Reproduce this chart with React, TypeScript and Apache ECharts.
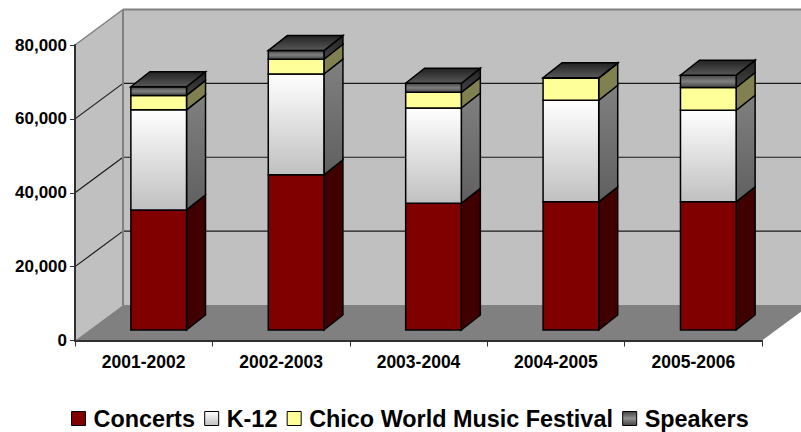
import React, { useEffect, useRef } from "react";
import * as echarts from "echarts";

const categories = ["2001-2002", "2002-2003", "2003-2004", "2004-2005", "2005-2006"];
const concerts = [32500, 42000, 34300, 34700, 34700];
const k12 = [27100, 27300, 25800, 27500, 24800];
const festival = [3900, 4000, 4250, 5950, 6150];
const speakers = [2350, 2350, 2450, 150, 3350];
const gridTicks = [0, 20000, 40000, 60000, 80000];

const DEPTH_X = 48;
const DEPTH_Y = 35.5;
const BAR_SHIFT_X = 15;
const BAR_SHIFT_Y = -10.5;
const BAR_DX = 19;
const BAR_DY = -15;

const vGrad = (stops: [number, string][]) =>
  new echarts.graphic.LinearGradient(0, 0, 0, 1, stops.map(([offset, color]) => ({ offset, color })));

type Look = { front: any; side: any; swatch: any };
const looks: Look[] = [
  { front: "#800000", side: "#400000", swatch: "#800000" },
  {
    front: vGrad([[0, "#ffffff"], [1, "#c0c0c0"]]),
    side: vGrad([[0, "#808080"], [1, "#606060"]]),
    swatch: vGrad([[0, "#ffffff"], [1, "#c0c0c0"]]),
  },
  { front: "#ffff99", side: "#808050", swatch: "#ffff99" },
  {
    front: vGrad([[0, "#444444"], [0.5, "#808080"], [1, "#444444"]]),
    side: vGrad([[0, "#222222"], [1, "#444444"]]),
    swatch: vGrad([[0, "#444444"], [0.5, "#909090"], [1, "#444444"]]),
  },
];
const topFace = vGrad([[0, "#222222"], [1, "#585858"]]);

const seriesNames = ["Concerts", "K-12", "Chico World Music Festival", "Speakers"];
const seriesValues = [concerts, k12, festival, speakers];

function barSeries(index: number) {
  const rows = categories.map((_, c) => {
    let base = 0;
    for (let s = 0; s < index; s++) base += seriesValues[s][c];
    return [c, base, base + seriesValues[index][c]];
  });
  const look = looks[index];
  const isTop = index === seriesValues.length - 1;
  return {
    type: "custom",
    name: seriesNames[index],
    z: 5,
    encode: { x: 0, y: [1, 2] },
    data: rows,
    renderItem: (_p: any, api: any) => {
      const c = api.value(0);
      const lo = api.coord([c, api.value(1)]);
      const hi = api.coord([c, api.value(2)]);
      const w = api.size([1, 0])[0] * 0.405;
      const l = lo[0] + BAR_SHIFT_X - w / 2;
      const r = l + w;
      const b = lo[1] + BAR_SHIFT_Y;
      const t = hi[1] + BAR_SHIFT_Y;
      const edge = { stroke: "#000000", lineWidth: 1.5 };
      const children: any[] = [
        {
          type: "polygon",
          shape: { points: [[r, b], [r + BAR_DX, b + BAR_DY], [r + BAR_DX, t + BAR_DY], [r, t]] },
          style: { fill: look.side, ...edge },
        },
        {
          type: "polygon",
          shape: { points: [[l, b], [r, b], [r, t], [l, t]] },
          style: { fill: look.front, ...edge },
        },
      ];
      if (isTop) {
        children.push({
          type: "polygon",
          shape: { points: [[l, t], [r, t], [r + BAR_DX, t + BAR_DY], [l + BAR_DX, t + BAR_DY]] },
          style: { fill: topFace, ...edge },
        });
      }
      return { type: "group", children };
    },
  };
}

const wallSeries = {
  type: "custom",
  name: "walls",
  z: 1,
  silent: true,
  data: [[0, 0]],
  encode: { x: 0, y: 1 },
  renderItem: (params: any, api: any) => {
    const g = params.coordSys;
    const L = g.x;
    const R = g.x + g.width;
    const T = g.y;
    const B = g.y + g.height;
    const far = R + DEPTH_X + 40;
    const children: any[] = [
      {
        type: "polygon",
        shape: { points: [[L + DEPTH_X, T - DEPTH_Y], [far, T - DEPTH_Y], [far, B - DEPTH_Y], [L + DEPTH_X, B - DEPTH_Y]] },
        style: { fill: "#c0c0c0" },
      },
      {
        type: "polygon",
        shape: { points: [[L, T], [L + DEPTH_X, T - DEPTH_Y], [L + DEPTH_X, B - DEPTH_Y], [L, B]] },
        style: { fill: "#c0c0c0" },
      },
      {
        type: "polygon",
        shape: { points: [[L, B], [L + DEPTH_X, B - DEPTH_Y], [R + DEPTH_X, B - DEPTH_Y], [R, B]] },
        style: { fill: "#808080" },
      },
    ];
    gridTicks.slice(1, -1).forEach((tick) => {
      const y = api.coord([0, tick])[1];
      const line = { stroke: "#1a1a1a", lineWidth: 1.2 };
      children.push({ type: "line", shape: { x1: L, y1: y, x2: L + DEPTH_X, y2: y - DEPTH_Y }, style: line });
      children.push({ type: "line", shape: { x1: L + DEPTH_X, y1: y - DEPTH_Y, x2: far, y2: y - DEPTH_Y }, style: line });
    });
    const border = { stroke: "#808080", lineWidth: 2 };
    children.push({ type: "line", shape: { x1: L + DEPTH_X, y1: T - DEPTH_Y, x2: far, y2: T - DEPTH_Y }, style: border });
    children.push({ type: "line", shape: { x1: L + DEPTH_X, y1: T - DEPTH_Y, x2: L + DEPTH_X, y2: B - DEPTH_Y }, style: border });
    children.push({ type: "line", shape: { x1: L, y1: T, x2: L + DEPTH_X, y2: T - DEPTH_Y }, style: { stroke: "#808080", lineWidth: 1.5 } });
    return { type: "group", children };
  },
};

export default function App() {
  const ref = useRef<HTMLDivElement>(null);
  useEffect(() => {
    const chart = echarts.init(ref.current!, undefined, { renderer: "svg" });
    const axisColor = "#303030";
    chart.setOption({
      animation: false,
      backgroundColor: "#ffffff",
      textStyle: { fontFamily: "Liberation Sans" },
      grid: { left: 75, top: 45, width: 687, height: 295.5, containLabel: false },
      legend: {
        left: 71,
        top: 407,
        itemWidth: 14,
        itemHeight: 14,
        itemGap: 9.3,
        padding: 0,
        selectedMode: false,
        textStyle: { fontFamily: "Liberation Sans", fontWeight: "bold", fontSize: 23.4, color: "#000000", padding: [0, 0, 0, 3] },
        data: seriesNames.map((name, i) => ({
          name,
          icon: "rect",
          itemStyle: { color: looks[i].swatch, borderColor: "#000000", borderWidth: 1 },
        })),
      },
      xAxis: {
        type: "category",
        data: categories,
        z: 6,
        axisLine: { lineStyle: { color: axisColor, width: 2 } },
        axisTick: { show: true, alignWithLabel: false, length: 6, lineStyle: { color: axisColor, width: 1 } },
        axisLabel: { fontFamily: "Liberation Sans", fontWeight: "bold", fontSize: 17.5, color: "#000000", margin: 12 },
        splitLine: { show: false },
      },
      yAxis: {
        type: "value",
        min: 0,
        max: 80000,
        interval: 20000,
        z: 6,
        axisLine: { show: true, lineStyle: { color: axisColor, width: 2 } },
        axisTick: { show: true, length: 5, lineStyle: { color: axisColor, width: 1 } },
        axisLabel: { fontFamily: "Liberation Sans", fontWeight: "bold", fontSize: 17, color: "#000000", margin: 8 },
        splitLine: { show: false },
      },
      series: [wallSeries, ...seriesNames.map((_, i) => barSeries(i))],
    });
    return () => chart.dispose();
  }, []);
  return <div ref={ref} style={{ position: "fixed", left: 0, top: 0, width: 801, height: 432 }} />;
}
